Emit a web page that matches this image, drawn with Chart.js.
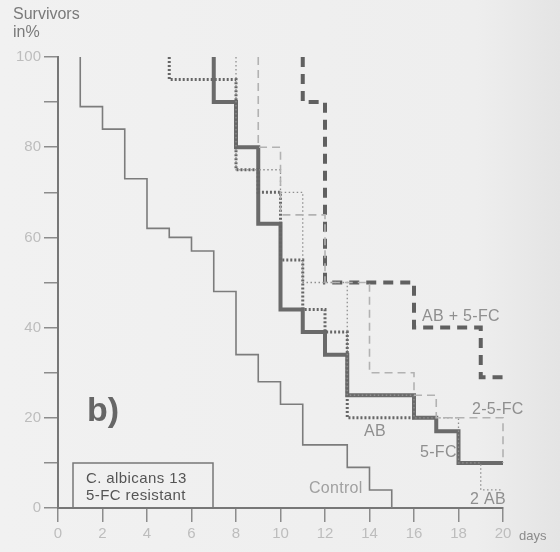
<!DOCTYPE html>
<html>
<head>
<meta charset="utf-8">
<script src="https://cdn.jsdelivr.net/npm/chart.js@4.4.1/dist/chart.umd.min.js"></script>
<style>
  body { margin: 0; background: #efefef; }
  canvas { display: block; }
</style>
</head>
<body>
<canvas id="survival" width="560" height="552"></canvas>
<script>
// survival curves, day of step and % survivors after the step
const controlDays = [1, 1, 2, 3, 4, 5, 6, 7, 8, 9, 10, 11, 13, 14, 15];
const controlPct  = [100, 89, 84, 73, 62, 60, 57, 48, 34, 28, 23, 14, 9, 4, 0];

const fiveFcDays = [7, 7, 8, 9, 10, 11, 12, 13, 16, 17, 18, 20];
const fiveFcPct  = [100, 90, 80, 63, 44, 39, 34, 25, 20, 17, 10, 10];

const abDays = [5, 5, 8, 9, 10, 11, 12, 13, 16];
const abPct  = [100, 95, 75, 70, 55, 44, 39, 20, 20];

const twoAbDays = [8, 8, 10, 11, 13, 16, 18, 19, 20];
const twoAbPct  = [100, 75, 70, 50, 25, 20, 10, 4, 4];

const twoFiveFcDays = [9, 9, 10, 12, 14, 16, 17, 20];
const twoFiveFcPct  = [100, 80, 65, 50, 30, 25, 20, 10];

const abFiveFcDays = [11, 11, 12, 16, 19, 20];
const abFiveFcPct  = [100, 90, 50, 40, 29, 29];

const dayTicks = [0, 2, 4, 6, 8, 10, 12, 14, 16, 18, 20];

const pts = (days, pct) => days.map((d, i) => ({ x: d, y: pct[i] }));

const FONT = "'Liberation Sans', Arial, sans-serif";

const curve = (label, days, pct, color, width, dash) => ({
  label: label,
  data: pts(days, pct),
  borderColor: color,
  borderWidth: width,
  borderDash: dash,
  borderCapStyle: 'butt',
  stepped: true,
  pointRadius: 0,
  fill: false,
  clip: 10
});

// paper background + free text on the plot
const paper = {
  id: 'paper',
  beforeDraw(chart) {
    const c = chart.ctx;
    const g = c.createLinearGradient(0, 0, 560, 0);
    g.addColorStop(0, '#f1f1f1');
    g.addColorStop(0.85, '#eeeeee');
    g.addColorStop(1, '#e4e4e4');
    c.save();
    c.fillStyle = g;
    c.fillRect(0, 0, chart.width, chart.height);
    c.restore();
  },
  afterDraw(chart) {
    const c = chart.ctx;
    const xs = chart.scales.x, ys = chart.scales.y;
    c.save();
    c.textBaseline = 'middle';

    c.fillStyle = '#7a7a7a';
    c.font = '16px ' + FONT;
    c.fillText('Survivors', 13, 15);
    c.fillText('in%', 13, 33);

    c.fillStyle = '#666';
    c.font = 'bold 34px ' + FONT;
    c.fillText('b)', 87, 412);

    // strain box
    const bx = 73, by = 463, bw = 140, bh = ys.getPixelForValue(0) - 463;
    c.strokeStyle = '#777';
    c.lineWidth = 1.5;
    c.strokeRect(bx, by, bw, bh);
    c.fillStyle = '#555';
    c.font = '15px ' + FONT;
    c.letterSpacing = '0.4px';
    c.fillText('C. albicans 13', bx + 13, by + 16);
    c.fillText('5-FC resistant', bx + 13, by + 33);

    // curve labels
    c.font = '16px ' + FONT;
    c.letterSpacing = '0.3px';
    c.fillStyle = '#8f8f8f';
    c.fillText('AB + 5-FC', 422, 317);
    c.fillText('2-5-FC', 472, 410);
    c.fillText('AB', 364, 432);
    c.fillText('5-FC', 420, 453);
    c.fillStyle = '#a0a0a0';
    c.fillText('Control', 309, 489);
    c.fillStyle = '#8f8f8f';
    c.fillText('2 AB', 470, 500);

    c.letterSpacing = '0px';
    c.fillStyle = '#8a8a8a';
    c.font = '13px ' + FONT;
    c.fillText('days', xs.getPixelForValue(20) + 16, 536);
    c.restore();
  }
};

new Chart(document.getElementById('survival'), {
  type: 'line',
  data: {
    datasets: [
      curve('Control', controlDays, controlPct, '#7c7c7c', 1.6, []),
      curve('2-5-FC', twoFiveFcDays, twoFiveFcPct, '#b2b2b2', 1.6, [8, 5]),
      curve('2 AB', twoAbDays, twoAbPct, '#8f8f8f', 1.3, [1.5, 2.5]),
      curve('AB', abDays, abPct, '#666', 3, [2, 2]),
      curve('AB + 5-FC', abFiveFcDays, abFiveFcPct, '#606060', 4, [10, 7]),
      curve('5-FC', fiveFcDays, fiveFcPct, '#6a6a6a', 4, [])
    ]
  },
  options: {
    responsive: false,
    animation: false,
    devicePixelRatio: 1,
    layout: { padding: { top: 57, right: 57, bottom: 12, left: 0 } },
    plugins: { legend: { display: false }, tooltip: { enabled: false } },
    scales: {
      x: {
        type: 'linear',
        min: 0,
        max: 20,
        afterBuildTicks: s => { s.ticks = dayTicks.map(v => ({ value: v })); },
        afterFit: s => { s.height = 32; },
        border: { display: true, color: '#777', width: 2 },
        grid: { drawOnChartArea: false, drawTicks: true, tickLength: 14, color: '#8c8c8c', lineWidth: 1.5 },
        ticks: { color: '#bdbdbd', font: { family: FONT, size: 15 }, padding: 3, maxRotation: 0 }
      },
      y: {
        min: 0,
        max: 100,
        afterFit: s => { s.width = 58; },
        border: { display: true, color: '#777', width: 2 },
        grid: { drawOnChartArea: false, drawTicks: true, tickLength: 14, color: '#8c8c8c', lineWidth: 1.5 },
        ticks: {
          stepSize: 10,
          color: '#bdbdbd',
          font: { family: FONT, size: 15 },
          padding: 3,
          callback: v => (v % 20 === 0 ? v : '')
        }
      }
    }
  },
  plugins: [paper]
});
</script>
</body>
</html>
